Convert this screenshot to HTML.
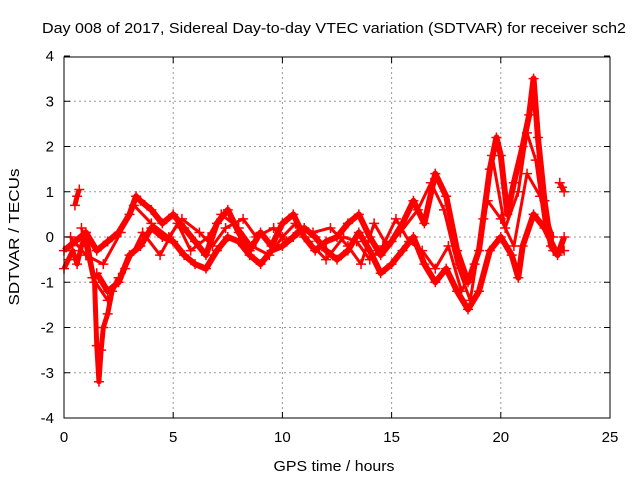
<!DOCTYPE html>
<html><head><meta charset="utf-8"><style>
body{margin:0;background:#fff}
svg{display:block;font-family:"Liberation Sans",sans-serif}
</style></head><body>
<svg id="chart" width="640" height="480">
<text x="334" y="33" font-size="15" text-anchor="middle" textLength="584" lengthAdjust="spacingAndGlyphs">Day 008 of 2017, Sidereal Day-to-day VTEC variation (SDTVAR) for receiver sch2</text>
<text x="334" y="471" font-size="15" text-anchor="middle" textLength="121" lengthAdjust="spacingAndGlyphs">GPS time / hours</text>
<text transform="translate(19,237) rotate(-90)" font-size="15" text-anchor="middle" textLength="137" lengthAdjust="spacingAndGlyphs">SDTVAR / TECUs</text>
<g id="grid"></g><g id="series"></g><g id="axes"></g>
</svg>
<script>
const xTicks=[0,5,10,15,20,25];
const yTicks=[-4,-3,-2,-1,0,1,2,3,4];
const traceAT=[0,0.2,0.4,0.6,0.8,1.0,1.2,1.4,1.5,1.6,1.7,1.8,2.0,2.2,2.5];
const traceAV=[-0.7,-0.5,-0.3,-0.6,-0.2,0.1,-0.5,-1.0,-2.4,-3.2,-2.5,-2.0,-1.7,-1.2,-0.9];
const traceBT=[0,0.5,1.0,1.5,2.0,2.5,3,3.3,3.5,4,4.5,5,5.5,6,6.5,7,7.5,8,8.5,9,9.5,10,10.5,11,11.5,12,12.5,13,13.5,14,14.5,15,15.5,16,16.5,17,17.5,18,18.5,19,19.5,19.8,20,20.3,20.6,21,21.3,21.5,21.7,22,22.3,22.6,22.9];
const traceBV=[-0.3,-0.1,0.1,-0.3,-0.1,0.1,0.5,0.9,0.8,0.6,0.3,0.5,0.2,-0.1,-0.4,0.3,0.6,0.1,-0.3,0.1,-0.2,0.3,0.5,0.0,-0.3,-0.1,0.0,0.3,0.5,0.0,-0.4,-0.1,0.3,0.8,0.3,1.4,0.9,-0.3,-1.0,-0.3,1.5,2.2,1.8,0.5,1.2,2.0,2.7,3.5,2.2,0.8,-0.2,-0.4,0.0];
const traceCT=[1.5,2,2.5,3,3.5,4,4.5,5,5.5,6,6.5,7,7.5,8,8.5,9,9.5,10,10.5,11,11.5,12,12.5,13,13.5,14,14.5,15,15.5,16,16.5,17,17.5,18,18.5,19,19.5,20,20.5,20.8,21,21.5,22,22.5,22.9];
const traceCV=[-0.8,-1.2,-1.0,-0.4,-0.2,0.2,0.0,-0.1,-0.4,-0.6,-0.7,-0.3,0.0,-0.1,-0.4,-0.6,-0.3,-0.2,0.0,0.2,0.0,-0.3,-0.5,-0.3,0.1,-0.3,-0.8,-0.6,-0.3,0.0,-0.6,-1.0,-0.7,-1.2,-1.6,-1.2,-0.3,0.0,-0.4,-0.9,-0.2,0.5,0.2,-0.3,-0.3];
const traceET=[0.3,1.0,1.8,2.6,3.2,4.0,4.8,5.4,6.2,6.8,7.4,8.2,8.8,9.6,10.2,10.8,11.4,12.2,13.0,13.6,14.2,14.8,15.4,16.2,16.8,17.4,18.0,18.6,19.2,19.6,20.2,20.8,21.2,21.6,22.0,22.4];
const traceEV=[0.0,-0.4,-0.6,0.1,0.7,0.3,0.0,0.4,0.1,-0.2,0.2,0.4,0.0,0.2,-0.1,0.2,0.1,0.2,-0.2,-0.6,0.3,-0.2,0.1,0.6,1.2,0.6,-0.6,-1.4,0.4,1.8,0.2,1.0,2.3,1.7,0.3,-0.3];
const traceFT=[0.8,1.3,2.0,2.8,3.6,4.4,5.2,5.8,6.6,7.2,8.0,8.6,9.4,10.0,10.6,11.2,12.0,12.8,13.4,14.0,14.6,15.2,15.8,16.4,17.0,17.6,18.2,18.8,19.4,20.0,20.6,21.2,21.8,22.4];
const traceFV=[0.2,-0.9,-1.4,-0.7,0.1,-0.4,0.3,-0.3,0.0,0.5,0.2,-0.2,-0.4,0.0,0.3,-0.1,-0.5,0.0,-0.1,-0.5,-0.2,0.4,-0.1,-0.3,-0.7,-0.2,-1.2,-0.6,0.8,0.4,-0.2,1.4,0.9,0.0];
const traceDT=[0.5,0.6,0.7,22.7,22.8,22.9];
const traceDV=[0.7,0.9,1.05,1.2,1.1,1.0];
const x=t=>64+t*(546/25), y=v=>237-v*45.25;
const ns="http://www.w3.org/2000/svg";
function mk(tag,a,p){const e=document.createElementNS(ns,tag);for(const k in a)e.setAttribute(k,a[k]);p.appendChild(e);return e;}
const G=document.getElementById('grid'),S=document.getElementById('series'),A=document.getElementById('axes');
xTicks.forEach(t=>{
 if(t>0&&t<25){const l=mk('line',{x1:x(t),x2:x(t),y1:57,y2:418,stroke:'#999','stroke-dasharray':'2,3'},G);
 }
 const tx=mk('text',{x:x(t),y:442,'font-size':15,'text-anchor':'middle'},A);tx.textContent=t;
 
 mk('line',{x1:x(t),x2:x(t),y1:418,y2:412,stroke:'#000'},A);mk('line',{x1:x(t),x2:x(t),y1:57,y2:63,stroke:'#000'},A);
});
yTicks.forEach(v=>{
 if(v>-4&&v<4){const l=mk('line',{x1:64,x2:610,y1:y(v),y2:y(v),stroke:'#999','stroke-dasharray':'2,3'},G);
 }
 const tx=mk('text',{x:54,y:y(v)+5,'font-size':15,'text-anchor':'end'},A);tx.textContent=v;
 
 mk('line',{x1:64,x2:70,y1:y(v),y2:y(v),stroke:'#000'},A);mk('line',{x1:604,x2:610,y1:y(v),y2:y(v),stroke:'#000'},A);
});
const fr=mk('rect',{x:64,y:57,width:546,height:361,fill:'none',stroke:'#000'},A);

function draw(T,V,name,w){
 const g=mk('g',{},S);
 const p=mk('polyline',{points:T.map((t,i)=>x(t)+','+y(V[i])).join(' '),fill:'none',stroke:'#f00','stroke-width':w,'stroke-linejoin':'round'},g);
 
 T.forEach((t,i)=>{const m=mk('path',{d:`M${x(t)-5},${y(V[i])}h10M${x(t)},${y(V[i])-5}v10`,stroke:'#f00','stroke-width':1.5},g);
 });
}
draw(traceAT,traceAV,'trace-a',5);
draw(traceBT,traceBV,'trace-b',6);
draw(traceCT,traceCV,'trace-c',6);
draw(traceET,traceEV,'trace-e',3);
draw(traceFT,traceFV,'trace-f',3);
draw(traceDT.slice(0,3),traceDV.slice(0,3),'trace-d1',5);
draw(traceDT.slice(3),traceDV.slice(3),'trace-d2',5);
</script>
</body></html>
